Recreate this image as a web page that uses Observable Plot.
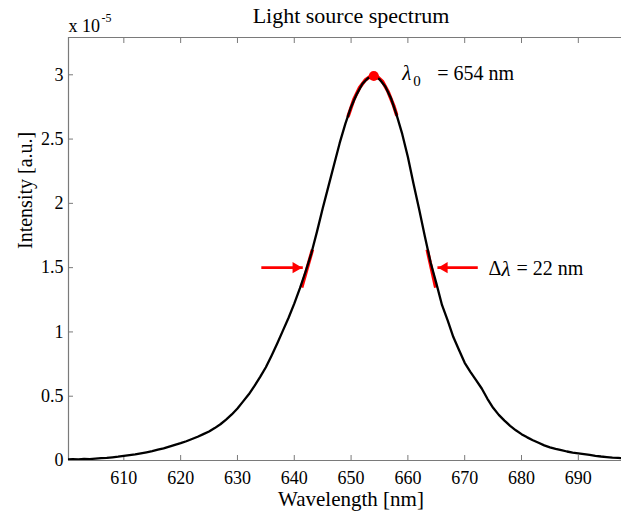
<!DOCTYPE html>
<html><head><meta charset="utf-8">
<script src="https://cdn.jsdelivr.net/npm/d3@7"></script>
<script src="https://cdn.jsdelivr.net/npm/@observablehq/plot@0.6"></script>
<style>body{margin:0;background:#fff;overflow:hidden} svg text{font-family:"Liberation Serif",serif}</style>
</head><body><div id="chart"></div>
<script>
// Spectrum (intensity in units of 1e-5)
const wavelength = [600,601,602,603,604,605,606,607,608,609,610,611,612,613,614,615,616,617,618,619,620,621,622,623,624,625,626,627,628,629,630,631,632,633,634,635,636,637,638,639,640,641,642,643,644,645,646,647,648,649,650,651,652,653,654,655,656,657,658,659,660,661,662,663,664,665,666,667,668,669,670,671,672,673,674,675,676,677,678,679,680,681,682,683,684,685,686,687,688,689,690,691,692,693,694,695,696,697,698];
const intensity = [0.008,0.010,0.009,0.012,0.011,0.015,0.018,0.020,0.025,0.030,0.036,0.042,0.048,0.056,0.064,0.073,0.084,0.095,0.108,0.122,0.135,0.150,0.167,0.185,0.205,0.226,0.252,0.282,0.318,0.358,0.405,0.460,0.515,0.580,0.650,0.725,0.815,0.910,1.010,1.110,1.220,1.340,1.470,1.610,1.780,1.960,2.130,2.300,2.470,2.620,2.750,2.850,2.930,2.975,2.990,2.965,2.910,2.820,2.690,2.540,2.360,2.150,1.950,1.740,1.540,1.380,1.210,1.090,0.960,0.860,0.760,0.690,0.625,0.560,0.480,0.410,0.355,0.310,0.270,0.235,0.205,0.180,0.158,0.138,0.118,0.102,0.090,0.080,0.070,0.062,0.056,0.050,0.043,0.036,0.031,0.027,0.023,0.020,0.016];

// Red peak fit
const peakFitWl = [649.5,650.5,651.5,652.5,653.5,654,654.5,655.5,656.5,657.5,658];
const peakFitI  = [2.68,2.81,2.90,2.96,2.99,2.995,2.99,2.95,2.87,2.76,2.69];
const peakWl = 654, peakI = 2.99;

// Red half-maximum slope segments
const slopeX1 = [641.3, 663.4], slopeY1 = [1.345, 1.64];
const slopeX2 = [643.2, 664.9], slopeY2 = [1.64, 1.345];

// Arrows (tail -> tip) at half maximum
const arrowFrom = [634.2, 672.3], arrowTo = [641.5, 665.2], arrowLevel = 1.5;

const xTicks = [610,620,630,640,650,660,670,680,690];
const yTicks = [0,0.5,1,1.5,2,2.5,3];
const xDomain = [600.26, 697.6], yDomain = [0, 3.29];

const titleText = "Light source spectrum";
const xLabel = "Wavelength [nm]";
const yLabel = "Intensity [a.u.]";

const spectrum = wavelength.map((w, i) => ({w, v: intensity[i]}));
const peakFit = peakFitWl.map((w, i) => ({w, v: peakFitI[i]}));
const slopes = slopeX1.map((x, i) => ({x1: x, y1: slopeY1[i], x2: slopeX2[i], y2: slopeY2[i]}));
const arrows = arrowFrom.map((x, i) => ({x1: x, x2: arrowTo[i], y: arrowLevel, right: x < arrowTo[i]}));

const axisColor = "#7a7a7a";
const serif = "Liberation Serif";

const chart = Plot.plot({
  width: 621, height: 511,
  marginLeft: 68, marginRight: 0, marginTop: 37, marginBottom: 51,
  style: {fontFamily: serif, fontSize: "18px", color: "#000", background: "#fff"},
  x: {domain: xDomain, label: null},
  y: {domain: yDomain, label: null},
  marks: [
    // axes lines
    Plot.ruleX([xDomain[0]], {stroke: axisColor, strokeWidth: 1.2}),
    Plot.ruleY([yDomain[0], yDomain[1]], {stroke: axisColor, strokeWidth: 1.2}),
    // ticks (inward)
    Plot.axisX(xTicks, {anchor: "bottom", tickSize: -5, tickFormat: () => "", stroke: axisColor}),
    Plot.axisX(xTicks, {anchor: "top", tickSize: -5, tickFormat: () => "", stroke: axisColor}),
    Plot.axisY(yTicks, {anchor: "left", tickSize: -5, tickFormat: () => "", stroke: axisColor}),
    // tick labels
    Plot.axisX(xTicks, {anchor: "bottom", tickSize: 0, tickPadding: 11, fontSize: 18, fontFamily: serif, fill: "#000", tickFormat: d => String(d)}),
    Plot.axisY(yTicks, {anchor: "left", tickSize: 0, tickPadding: 5, fontSize: 18, fontFamily: serif, fill: "#000", tickFormat: d => String(d)}),
    // red fits
    Plot.line(peakFit, {x: "w", y: "v", stroke: "#ff0000", strokeWidth: 3.5}),
    Plot.link(slopes, {x1: "x1", y1: "y1", x2: "x2", y2: "y2", stroke: "#ff0000", strokeWidth: 3.5}),
    // spectrum
    Plot.line(spectrum, {x: "w", y: "v", stroke: "#000", strokeWidth: 2.3, clip: true}),
    // peak dot
    Plot.dot([{w: peakWl, v: peakI}], {x: "w", y: "v", r: 5, fill: "#ff0000", stroke: null}),
    // arrows
    Plot.link(arrows, {x1: "x1", x2: "x2", y1: "y", y2: "y", stroke: "#ff0000", strokeWidth: 2.6}),
    Plot.dot(arrows.filter(a => a.right), {x: "x2", y: "y", symbol: "triangle2", r: 5.3, fill: "#ff0000", rotate: 90, dx: -7}),
    Plot.dot(arrows.filter(a => !a.right), {x: "x2", y: "y", symbol: "triangle2", r: 5.3, fill: "#ff0000", rotate: -90, dx: 7}),
    // annotations
    Plot.text(["λ"], {x: 659.0, y: 3.01, textAnchor: "start", fontSize: 21, fontStyle: "italic", fontFamily: serif}),
    Plot.text(["0"], {x: 659.0, y: 3.01, dx: 11, dy: 8, textAnchor: "start", fontSize: 15, fontFamily: serif}),
    Plot.text(["= 654 nm"], {x: 659.0, y: 3.01, dx: 35, textAnchor: "start", fontSize: 20, fontFamily: serif}),
    Plot.text(["Δ"], {x: 674.2, y: 1.49, textAnchor: "start", fontSize: 20, fontFamily: serif}),
    Plot.text(["λ"], {x: 674.2, y: 1.49, dx: 13, textAnchor: "start", fontSize: 21, fontStyle: "italic", fontFamily: serif}),
    Plot.text(["= 22 nm"], {x: 674.2, y: 1.49, dx: 28, textAnchor: "start", fontSize: 20, fontFamily: serif}),
    // title, axis labels, exponent
    Plot.text([titleText], {frameAnchor: "top", lineAnchor: "middle", dx: 6, dy: -22, fontSize: 22, fontFamily: serif}),
    Plot.text([xLabel], {frameAnchor: "bottom", lineAnchor: "middle", dx: 6, dy: 38.5, fontSize: 21, fontFamily: serif}),
    Plot.text([yLabel], {frameAnchor: "left", lineAnchor: "middle", dx: -43, rotate: -90, fontSize: 20, fontFamily: serif}),
    Plot.text(["x 10"], {frameAnchor: "top-left", lineAnchor: "middle", dy: -11, textAnchor: "start", fontSize: 18, fontFamily: serif}),
    Plot.text(["-5"], {frameAnchor: "top-left", lineAnchor: "middle", dx: 33, dy: -19, textAnchor: "start", fontSize: 12, fontFamily: serif})
  ]
});
document.getElementById("chart").appendChild(chart);
</script>
</body></html>
